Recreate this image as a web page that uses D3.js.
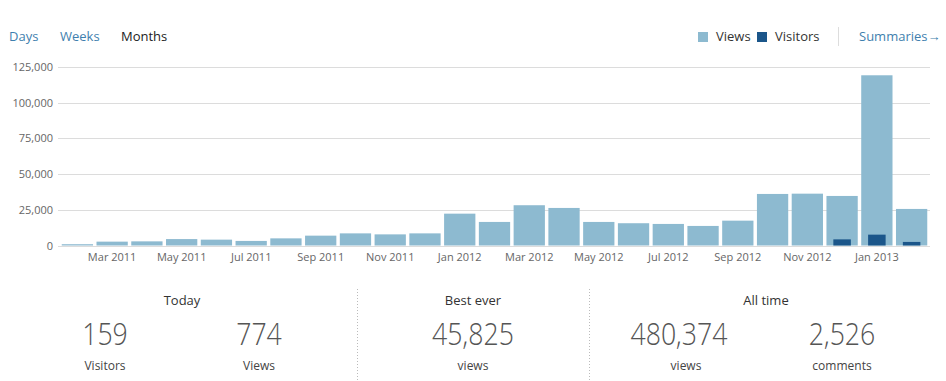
<!DOCTYPE html>
<html><head><meta charset="utf-8">
<script src="https://cdn.jsdelivr.net/npm/d3@7"></script>
<style>
body{margin:0;background:#fff;font-family:"Open Sans",sans-serif;}
svg{display:block}
</style></head>
<body>
<svg id="c" width="946" height="381"></svg>
<script>
const months = ["Feb 2011","Mar 2011","Apr 2011","May 2011","Jun 2011","Jul 2011","Aug 2011","Sep 2011","Oct 2011","Nov 2011","Dec 2011","Jan 2012","Feb 2012","Mar 2012","Apr 2012","May 2012","Jun 2012","Jul 2012","Aug 2012","Sep 2012","Oct 2012","Nov 2012","Dec 2012","Jan 2013","Feb 2013"];
const views = [900,2700,2900,4500,4100,3200,5000,6900,8500,7800,8500,22300,16500,28200,26300,16500,15600,15100,13700,17400,36100,36300,34700,119200,25600];
const visitors = [0,0,0,0,0,0,0,0,0,0,0,0,0,0,0,0,0,0,0,0,0,0,4300,7600,2500];
const yTicks = [0,25000,50000,75000,100000,125000];
const tabs = ["Days","Weeks","Months"];
const legendItems = ["Views","Visitors"];
const statGroups = ["Today","Best ever","All time"];
const statValues = ["159","774","45,825","480,374","2,526"];
const statLabels = ["Visitors","Views","views","views","comments"];

const C_VIEWS = "#8dbad0", C_VIS = "#1b568a", C_LINK = "#3f7fae";
const svg = d3.select("#c");

// tabs
const tabX = [9,60,121];
svg.selectAll("text.tab").data(tabs).join("text")
  .attr("x",(d,i)=>tabX[i]).attr("y",41)
  .attr("font-size",13).attr("fill",(d,i)=>i===2?"#222":C_LINK).text(d=>d);

// legend
const legX = [698,757];
legendItems.forEach((d,i)=>{
  svg.append("rect").attr("x",legX[i]).attr("y",32).attr("width",10).attr("height",10)
    .attr("fill",i===0?C_VIEWS:C_VIS);
  svg.append("text").attr("x",legX[i]+18).attr("y",41).attr("font-size",13).attr("fill","#333").text(d);
});
svg.append("line").attr("x1",838.5).attr("x2",838.5).attr("y1",27).attr("y2",46).attr("stroke","#ddd");
svg.append("text").attr("x",859).attr("y",41).attr("font-size",13).attr("fill",C_LINK).text("Summaries\u2192");

// scales
const x = d3.scaleBand().domain(months).range([60,929]).paddingInner(0.1).paddingOuter(0.05);
const y = d3.scaleLinear().domain([0,125000]).range([245.5,67]);

// grid + y axis
const yAxis = d3.axisLeft(y).tickValues(yTicks).tickFormat(d3.format(",")).tickSize(0).tickPadding(0);
const ga = svg.append("g").attr("transform","translate(53,0)").call(yAxis);
ga.select(".domain").remove();
ga.selectAll("text").attr("font-size",11).attr("fill","#666").attr("font-family","Open Sans");
svg.selectAll("line.grid").data(yTicks).join("line").attr("class","grid")
  .attr("x1",58).attr("x2",930).attr("y1",d=>Math.round(y(d))+0.5).attr("y2",d=>Math.round(y(d))+0.5)
  .attr("stroke","#dcdcdc");

// bars
svg.selectAll("rect.v").data(views).join("rect").attr("class","v")
  .attr("x",(d,i)=>x(months[i])).attr("width",x.bandwidth())
  .attr("y",d=>y(d)).attr("height",d=>y(0)-y(d)).attr("fill",C_VIEWS);
const vw = x.bandwidth()*0.56;
svg.selectAll("rect.u").data(visitors).join("rect").attr("class","u")
  .attr("x",(d,i)=>x(months[i])+(x.bandwidth()-vw)/2).attr("width",vw)
  .attr("y",d=>y(d)).attr("height",d=>y(0)-y(d)).attr("fill",C_VIS);

// x axis
const xAxis = d3.axisBottom(x).tickValues(months.filter((d,i)=>i%2===1)).tickSize(0).tickPadding(0);
const gx = svg.append("g").attr("transform","translate(0,253)").call(xAxis);
gx.select(".domain").remove();
gx.selectAll("text").attr("font-size",11).attr("fill","#666").attr("font-family","Open Sans");

// stats
const divX = [357.5,589.5];
divX.forEach(dx=>svg.append("line").attr("x1",dx).attr("x2",dx).attr("y1",289).attr("y2",381)
  .attr("stroke","#bbb").attr("stroke-dasharray","1,2"));
const groupX = [182,473,766];
svg.selectAll("text.sg").data(statGroups).join("text").attr("class","sg")
  .attr("x",(d,i)=>groupX[i]).attr("y",305).attr("text-anchor","middle")
  .attr("font-size",13).attr("fill","#333").text(d=>d);
const colX = [105,259,473,679,842];
const sv = svg.selectAll("text.sv").data(statValues).join("text").attr("class","sv")
  .attr("x",(d,i)=>colX[i]).attr("y",345).attr("text-anchor","middle")
  .attr("font-family","'Open Sans Light','Lato Light','Open Sans',sans-serif")
  .attr("font-size",31).attr("font-weight",300).attr("fill","#555").text(d=>d);
sv.each(function(){
  const w = this.getComputedTextLength();
  d3.select(this).attr("textLength", w*0.86).attr("lengthAdjust","spacingAndGlyphs");
});
const labX = [105,259,473,686,842];
svg.selectAll("text.sl").data(statLabels).join("text").attr("class","sl")
  .attr("x",(d,i)=>labX[i]).attr("y",370).attr("text-anchor","middle")
  .attr("font-size",12).attr("fill","#444").text(d=>d);
</script>
</body></html>
